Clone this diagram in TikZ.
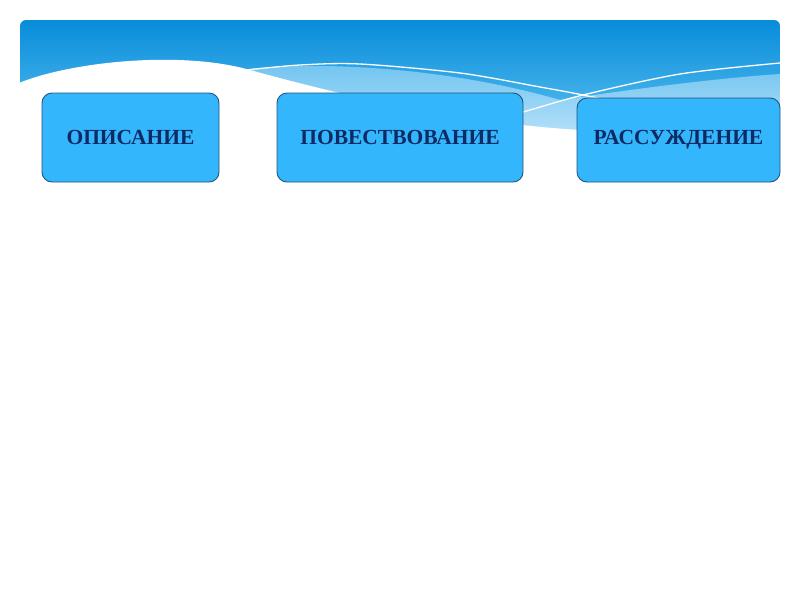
\documentclass[tikz,border=0pt]{standalone}
\usepackage{fontspec}
\setmainfont{Liberation Serif}
\begin{document}
\begin{tikzpicture}[x=1pt,y=-1pt,
  box/.style={draw={rgb,255:red,35;green,85;blue,125}, line width=0.9pt, fill={rgb,255:red,51;green,182;blue,252},
    rounded corners=10pt, inner sep=0pt, font=\fontsize{21.5}{26}\selectfont\bfseries,
    text={rgb,255:red,14;green,42;blue,100}},
  wline/.style={white, line width=1.3pt}]
\useasboundingbox (0,0) rectangle (800,600);
\fill[white] (0,0) rectangle (800,600);
% banner
\shade[top color={rgb,255:red,8;green,140;blue,218}, bottom color={rgb,255:red,95;green,195;blue,242},
  rounded corners=6pt] (20,20) rectangle (780,140);
% light band
\shade[top color={rgb,255:red,110;green,195;blue,240}, bottom color={rgb,255:red,190;green,228;blue,250}]
  (240,70) .. controls (320,60) and (450,68) .. (560,100)
  .. controls (640,88) and (720,78) .. (780,74) -- (780,145) -- (240,145) -- cycle;
% white region
\fill[white] (19,83) .. controls (70,62) and (180,50) .. (250,70)
  .. controls (330,92) and (450,122) .. (580,130)
  .. controls (680,136) .. (781,138) -- (781,150) -- (19,150) -- cycle;
% white lines
\draw[wline] plot[smooth] coordinates {(246,70) (300,65) (360,64) (460,73) (540,87) (583,95) (680,115) (780,130)};
\draw[wline] plot[smooth] coordinates {(450,132) (523,112) (583,95) (680,74) (780,63)};
% boxes
\node[box, minimum width=177pt, minimum height=89pt] (op) at (130.5,137.5) {ОПИСАНИЕ};
\node[box, minimum width=246pt, minimum height=89pt] (pov) at (400,137.5) {ПОВЕСТВОВАНИЕ};
\node[box, minimum width=203pt, minimum height=84pt] (ras) at (678.5,140) {РАССУЖДЕНИЕ};
\end{tikzpicture}
\end{document}
